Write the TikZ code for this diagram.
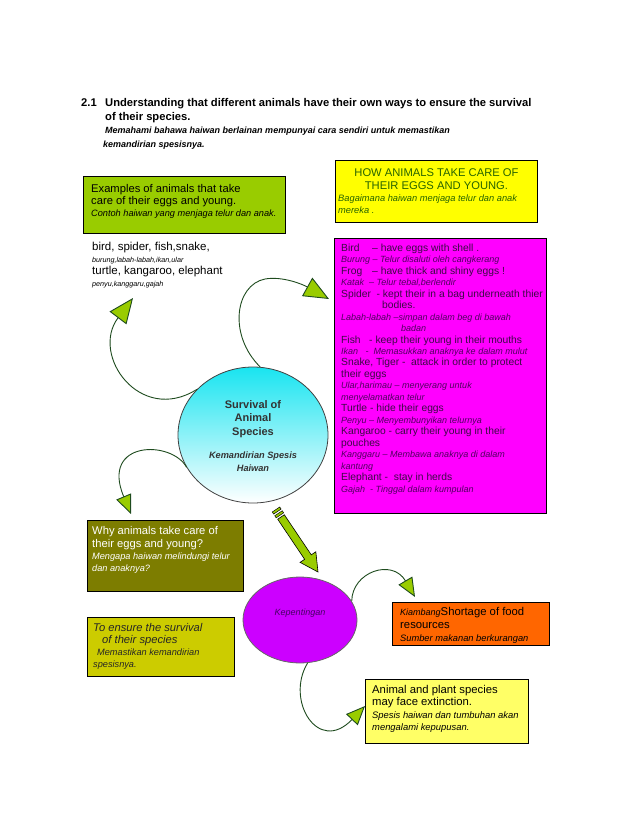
\documentclass[tikz,border=0pt]{standalone}
\usepackage{fontspec}
\setmainfont{Liberation Sans}
\usetikzlibrary{positioning, shapes.geometric, calc, arrows.meta}

\definecolor{limebox}{RGB}{153,204,0}
\definecolor{headgreen}{RGB}{153,204,0}
\definecolor{stemgreen}{RGB}{30,75,30}
\definecolor{brightyellow}{RGB}{255,255,0}
\definecolor{howgreen}{RGB}{40,100,0}
\definecolor{pinkbox}{RGB}{255,0,255}
\definecolor{plumdark}{RGB}{60,10,70}
\definecolor{plumlight}{RGB}{80,0,95}
\definecolor{circcyan}{RGB}{25,228,240}
\definecolor{olivebox}{RGB}{125,125,0}
\definecolor{mustard}{RGB}{204,204,0}
\definecolor{kepviolet}{RGB}{204,0,255}
\definecolor{kepink}{RGB}{70,0,100}
\definecolor{orangebox}{RGB}{255,102,0}
\definecolor{paleyellow}{RGB}{255,255,102}

\newcommand{\fsz}[2]{\fontsize{#1}{#2}\selectfont}
\newcommand{\maltext}[1]{{\itshape\fsz{9}{11.48}\color{plumlight}#1}}

\begin{document}
\begin{tikzpicture}[
        x=1pt, y=-1pt,
        every node/.style={inner sep=0pt},
        box/.style={draw=black, line width=0.9pt, anchor=north west},
        txt/.style={anchor=north west, align=left},
        curve/.style={draw=stemgreen, line width=0.9pt,
                      -{Triangle[length=25pt, width=21pt, fill=headgreen]}},
        smallcurve/.style={draw=stemgreen, line width=0.9pt,
                      -{Triangle[length=19pt, width=16pt, fill=headgreen]}}
    ]
    \useasboundingbox (0,0) rectangle (638,826);

    % --- Heading ---
    \node[txt, font=\bfseries\fsz{11.2}{13.5}] (secno) at (81,98.5) {2.1};
    \node[txt, font=\bfseries\fsz{11.2}{13.5}] (heading) at (105,98.5)
        {Understanding that different animals have their own ways to ensure the survival\\
         of their species.\\
         {\itshape\fsz{9}{13.5}Memahami bahawa haiwan berlainan mempunyai cara sendiri untuk memastikan}\\
         {\itshape\fsz{9}{13.5}\hspace{-2pt}kemandirian spesisnya.}};

    % --- Examples (left) ---
    \node[box, fill=limebox, minimum width=202pt, minimum height=57pt] (exbox) at (83,176) {};
    \node[txt, font=\fsz{11.2}{12}, below right=8.5pt and 8pt of exbox.north west] (extext)
        {Examples of animals that take\\
         care of their eggs and young.\\
         {\itshape\fsz{9.2}{12}Contoh haiwan yang menjaga telur dan anak.}};
    \node[txt, font=\fsz{11.5}{12}] (animals) at (92,242)
        {bird, spider, fish,snake,\\
         {\itshape\fsz{7.2}{12}burung,labah-labah,ikan,ular}\\
         turtle, kangaroo, elephant\\
         {\itshape\fsz{7.2}{12}penyu,kanggaru,gajah}};

    % --- How (right) ---
    \node[box, fill=brightyellow, minimum width=202pt, minimum height=62pt] (howbox) at (335,160) {};
    \node[align=center, font=\fsz{11.2}{13.5}, text=howgreen, below=8pt of howbox.north] (howtitle)
        {HOW ANIMALS TAKE CARE OF\\ THEIR EGGS AND YOUNG.};
    \node[txt, font=\itshape\fsz{9.3}{12}, text=howgreen, below right=34.5pt and 3pt of howbox.north west] (howmy)
        {Bagaimana haiwan menjaga telur dan anak\\ mereka .};

    \node[box, fill=pinkbox, minimum width=212pt, minimum height=275pt] (carebox) at (334,238) {};
    \node[txt, font=\fsz{10.3}{11.48}, text=plumdark, below right=5.5pt and 7pt of carebox.north west] (caretext)
        {\makebox[31pt][l]{Bird}– have eggs with shell .\\
         \maltext{Burung – Telur disaluti oleh cangkerang}\\
         \makebox[31pt][l]{Frog}– have thick and shiny eggs !\\
         \maltext{Katak\ \ – Telur tebal,berlendir}\\
         Spider\ \ - kept their in a bag underneath thier\\
         \hspace{41pt}bodies.\\
         \maltext{Labah-labah –simpan dalam beg di bawah}\\
         \maltext{\hspace{60pt}badan}\\
         Fish\ \ \ - keep their young in their mouths\\
         \maltext{Ikan\ \ \ -\ \ Memasukkan anaknya ke dalam mulut}\\
         Snake, Tiger -\ \ attack in order to protect\\
         their eggs\\
         \maltext{Ular,harimau – menyerang untuk}\\
         \maltext{menyelamatkan telur}\\
         Turtle - hide their eggs\\
         \maltext{Penyu – Menyembunyikan telurnya}\\
         Kangaroo - carry their young in their\\
         pouches\\
         \maltext{Kanggaru – Membawa anaknya di dalam}\\
         \maltext{kantung}\\
         Elephant -\ \ stay in herds\\
         \maltext{Gajah\ \ - Tinggal dalam kumpulan}};

    % --- Centre ---
    \node[ellipse, draw=black!75, line width=0.8pt, top color=circcyan, bottom color=white,
          minimum width=150pt, minimum height=136pt] (surv) at (253,435) {};
    \node[align=center, font=\bfseries\fsz{11}{13.5}, text=black!80] (survtext) at (253,436)
        {Survival of\\ Animal\\ Species\\[9.5pt]
         {\itshape\fsz{9.2}{13.5}Kemandirian Spesis}\\
         {\itshape\fsz{9.2}{13.5}Haiwan}};

    % --- Curved arrows round the centre ---
    \coordinate (tipA) at (133,298);
    \coordinate (tipB) at ($(carebox.north west)+(-5,61)$);
    \coordinate (tipC) at (131,514);
    \draw[curve] (surv.141) .. controls (140,425) and (90,355) .. (tipA);
    \draw[curve] (surv.84) .. controls (228,335) and (235,285) .. (265,279)
                 .. controls (282,276) and (302,284) .. (tipB);
    \draw[smallcurve] (surv.206) .. controls (172,440) and (100,440) .. (tipC);

    % --- Why box ---
    \node[box, fill=olivebox, minimum width=156pt, minimum height=71pt] (whybox) at (87,520) {};
    \node[txt, font=\fsz{11.2}{12.3}, text=white, below right=6.5pt and 5pt of whybox.north west] (whytext)
        {Why animals take care of\\
         their eggs and young?\\
         {\itshape\fsz{9.2}{12.3}Mengapa haiwan melindungi telur}\\
         {\itshape\fsz{9.2}{12.3}dan anaknya?}};

    % --- Block arrow down to the ellipse ---
    \coordinate (bs) at (281,517);
    \coordinate (bt) at (318,572);
    \coordinate (bh) at ($(bt)!18pt!(bs)$);
    \filldraw[fill=headgreen, draw=black, line width=0.6pt]
        ($(bs)!4pt!90:(bt)$) -- ($(bh)!4pt!90:(bt)$) -- ($(bh)!9.5pt!90:(bt)$) -- (bt)
        -- ($(bh)!9.5pt!-90:(bt)$) -- ($(bh)!4pt!-90:(bt)$) -- ($(bs)!4pt!-90:(bt)$) -- cycle;
    \coordinate (st1) at ($(bt)!68.3pt!(bs)$);
    \coordinate (st2) at ($(bt)!70.8pt!(bs)$);
    \coordinate (st3) at ($(bt)!72.8pt!(bs)$);
    \coordinate (st4) at ($(bt)!75.3pt!(bs)$);
    \filldraw[fill=headgreen, draw=black, line width=0.5pt]
        ($(st1)!4.5pt!90:(bt)$) -- ($(st2)!4.5pt!90:(bt)$) -- ($(st2)!4.5pt!-90:(bt)$) -- ($(st1)!4.5pt!-90:(bt)$) -- cycle;
    \filldraw[fill=headgreen, draw=black, line width=0.5pt]
        ($(st3)!4.5pt!90:(bt)$) -- ($(st4)!4.5pt!90:(bt)$) -- ($(st4)!4.5pt!-90:(bt)$) -- ($(st3)!4.5pt!-90:(bt)$) -- cycle;

    % --- Kepentingan ---
    \node[ellipse, draw=black!60, line width=0.8pt, fill=kepviolet,
          minimum width=114pt, minimum height=86pt] (kep) at (300,620) {};
    \node[font=\itshape\fsz{9}{11}, text=kepink] (keptext) at (300,613) {Kepentingan};

    \node[box, fill=mustard, minimum width=147pt, minimum height=59pt] (ensbox) at (87,617) {};
    \node[txt, font=\itshape\fsz{11.2}{12}, text=black!85, below right=6.5pt and 6pt of ensbox.north west] (enstext)
        {To ensure the survival\\
         \hspace{9pt}of their species\\
         {\fsz{9.2}{12}\hspace{4pt}Memastikan kemandirian}\\
         {\fsz{9.2}{12}spesisnya.}};

    \node[box, fill=orangebox, minimum width=157pt, minimum height=43pt] (foodbox) at (392,602) {};
    \node[txt, font=\fsz{11.3}{13}, below right=5.5pt and 8pt of foodbox.north west] (foodtext)
        {{\itshape\fsz{9}{13}Kiambang}Shortage of food\\
         resources\\
         {\itshape\fsz{9.3}{13}Sumber makanan berkurangan}};

    \node[box, fill=paleyellow, minimum width=163pt, minimum height=64pt] (extbox) at (365,679) {};
    \node[txt, font=\fsz{11.3}{12.5}, below right=6pt and 7pt of extbox.north west] (exttext)
        {Animal and plant species\\
         may face extinction.\\
         {\itshape\fsz{9.4}{12.5}Spesis haiwan dan tumbuhan akan}\\
         {\itshape\fsz{9.4}{12.5}mengalami kepupusan.}};

    % --- Arrows from the ellipse ---
    \coordinate (tipD) at ($(foodbox.north west)+(23,-5)$);
    \coordinate (tipE) at ($(extbox.north west)+(0,27)$);
    \draw[smallcurve] (kep.20) .. controls (352,572) and (392,558) .. (tipD);
    \draw[smallcurve] (kep.-80) .. controls (285,700) and (318,755) .. (tipE);

\end{tikzpicture}
\end{document}
